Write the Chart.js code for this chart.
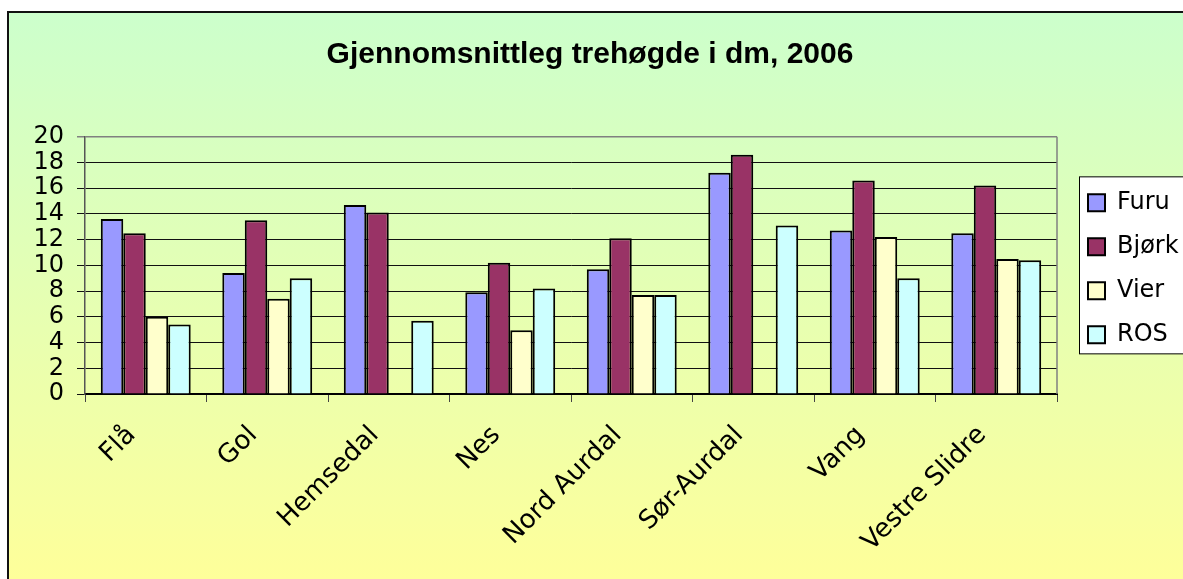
<!DOCTYPE html>
<html>
<head>
<meta charset="utf-8">
<script src="https://cdn.jsdelivr.net/npm/chart.js@4.4.0/dist/chart.umd.min.js"></script>
<style>
  html, body { margin: 0; padding: 0; background: #fff; overflow: hidden; }
  #frame {
    position: absolute; left: 7px; top: 11px; width: 1200px; height: 600px;
    border-left: 2px solid #111; border-top: 2px solid #111;
    background: linear-gradient(#ccffcc, #ffff99 96%);
  }
  #chart { position: absolute; left: 0; top: 0; }
</style>
</head>
<body>
<div id="frame"><canvas id="chart" width="1174" height="566"></canvas></div>
<script>
const categories = ['Flå', 'Gol', 'Hemsedal', 'Nes', 'Nord Aurdal', 'Sør-Aurdal', 'Vang', 'Vestre Slidre'];
const furu  = [13.6, 9.4, 14.7, 7.9, 9.7, 17.2, 12.7, 12.5];
const bjork = [12.5, 13.5, 14.1, 10.2, 12.1, 18.6, 16.6, 16.2];
const vier  = [6.0, 7.4, null, 4.95, 7.7, null, 12.2, 10.5];
const ros   = [5.4, 9.0, 5.7, 8.2, 7.7, 13.1, 9.0, 10.4];
const yTicks = [0, 2, 4, 6, 8, 10, 12, 14, 16, 18, 20];

const titleFont = 'Liberation Sans, Arial, sans-serif';
const font = 'DejaVu Sans, sans-serif';

function bars(label, data, color) {
    return {
        label: label,
        data: data,
        backgroundColor: color,
        borderColor: '#000',
        borderWidth: 2,
        categoryPercentage: 0.74,
        barPercentage: 1.0
    };
}

// legend box frame, plot border and legend width
const frameParts = {
    id: 'frameParts',
    beforeUpdate(chart) {
        const lg = chart.legend;
        if (lg && !lg._fixed) {
            const fit = lg.fit;
            lg.fit = function () { fit.call(this); this.width = 114; };
            lg._fixed = true;
        }
    },
    afterLayout(chart) {
        const lg = chart.legend;
        lg.left += 11;
        lg.right = chart.width;
        lg.top = chart.chartArea.top + 7;
        lg.bottom = chart.chartArea.bottom;
    },
    beforeDraw(chart) {
        const ctx = chart.ctx;
        const area = chart.chartArea;
        const mid = (area.top + area.bottom) / 2;
        const x = chart.legend.left + 11.5;
        ctx.save();
        ctx.fillStyle = '#fff';
        ctx.strokeStyle = '#000';
        ctx.lineWidth = 1;
        ctx.fillRect(x, mid - 88.5, 300, 177);
        ctx.strokeRect(x, mid - 88.5, 300, 177);
        ctx.restore();
    },
    beforeDatasetsDraw(chart) {
        const ctx = chart.ctx;
        const area = chart.chartArea;
        ctx.save();
        ctx.strokeStyle = '#808080';
        ctx.lineWidth = 1.5;
        ctx.beginPath();
        ctx.moveTo(area.right, area.top);
        ctx.lineTo(area.right, area.bottom);
        ctx.stroke();
        ctx.restore();
    }
};

const ctx = document.getElementById('chart').getContext('2d');
const chart = new Chart(ctx, {
    type: 'bar',
    data: {
        labels: categories,
        datasets: [
            bars('Furu', furu, '#9999ff'),
            bars('Bjørk', bjork, '#993366'),
            bars('Vier', vier, '#ffffcc'),
            bars('ROS', ros, '#ccffff')
        ]
    },
    options: {
        responsive: false,
        animation: false,
        layout: {
            padding: { left: 0, right: 12, top: 0, bottom: 0 }
        },
        scales: {
            x: {
                afterFit: (scale) => { scale.height = 185; },
                border: { color: '#000', width: 2 },
                grid: {
                    offset: true,
                    drawOnChartArea: false,
                    drawTicks: true,
                    tickLength: 8,
                    color: '#444'
                },
                ticks: {
                    autoSkip: false,
                    maxRotation: 45,
                    minRotation: 45,
                    labelOffset: -14,
                    padding: 18,
                    color: '#000',
                    font: { family: font, size: 26 }
                }
            },
            y: {
                min: 0,
                max: 20,
                afterFit: (scale) => { scale.width = 76; },
                afterBuildTicks: (scale) => {
                    scale.ticks = yTicks.map((v) => ({ value: v }));
                },
                border: { color: '#555', width: 1.5 },
                grid: {
                    color: (c) => (c.tick && c.tick.value === 20 ? '#808080' : '#111'),
                    lineWidth: (c) => (c.tick && c.tick.value === 20 ? 1.5 : 1),
                    tickLength: 8
                },
                ticks: {
                    autoSkip: false,
                    padding: 13,
                    color: '#000',
                    font: { family: font, size: 24 }
                }
            }
        },
        plugins: {
            title: {
                display: true,
                text: 'Gjennomsnittleg trehøgde i dm, 2006',
                color: '#000',
                font: { family: titleFont, size: 30, weight: 'bold' },
                padding: { top: 24, bottom: 63.7 }
            },
            legend: {
                position: 'right',
                labels: {
                    color: '#000',
                    boxWidth: 17,
                    boxHeight: 17,
                    padding: 20,
                    font: { family: font, size: 24 }
                }
            },
            tooltip: { enabled: false }
        }
    },
    plugins: [frameParts]
});
</script>
</body>
</html>
